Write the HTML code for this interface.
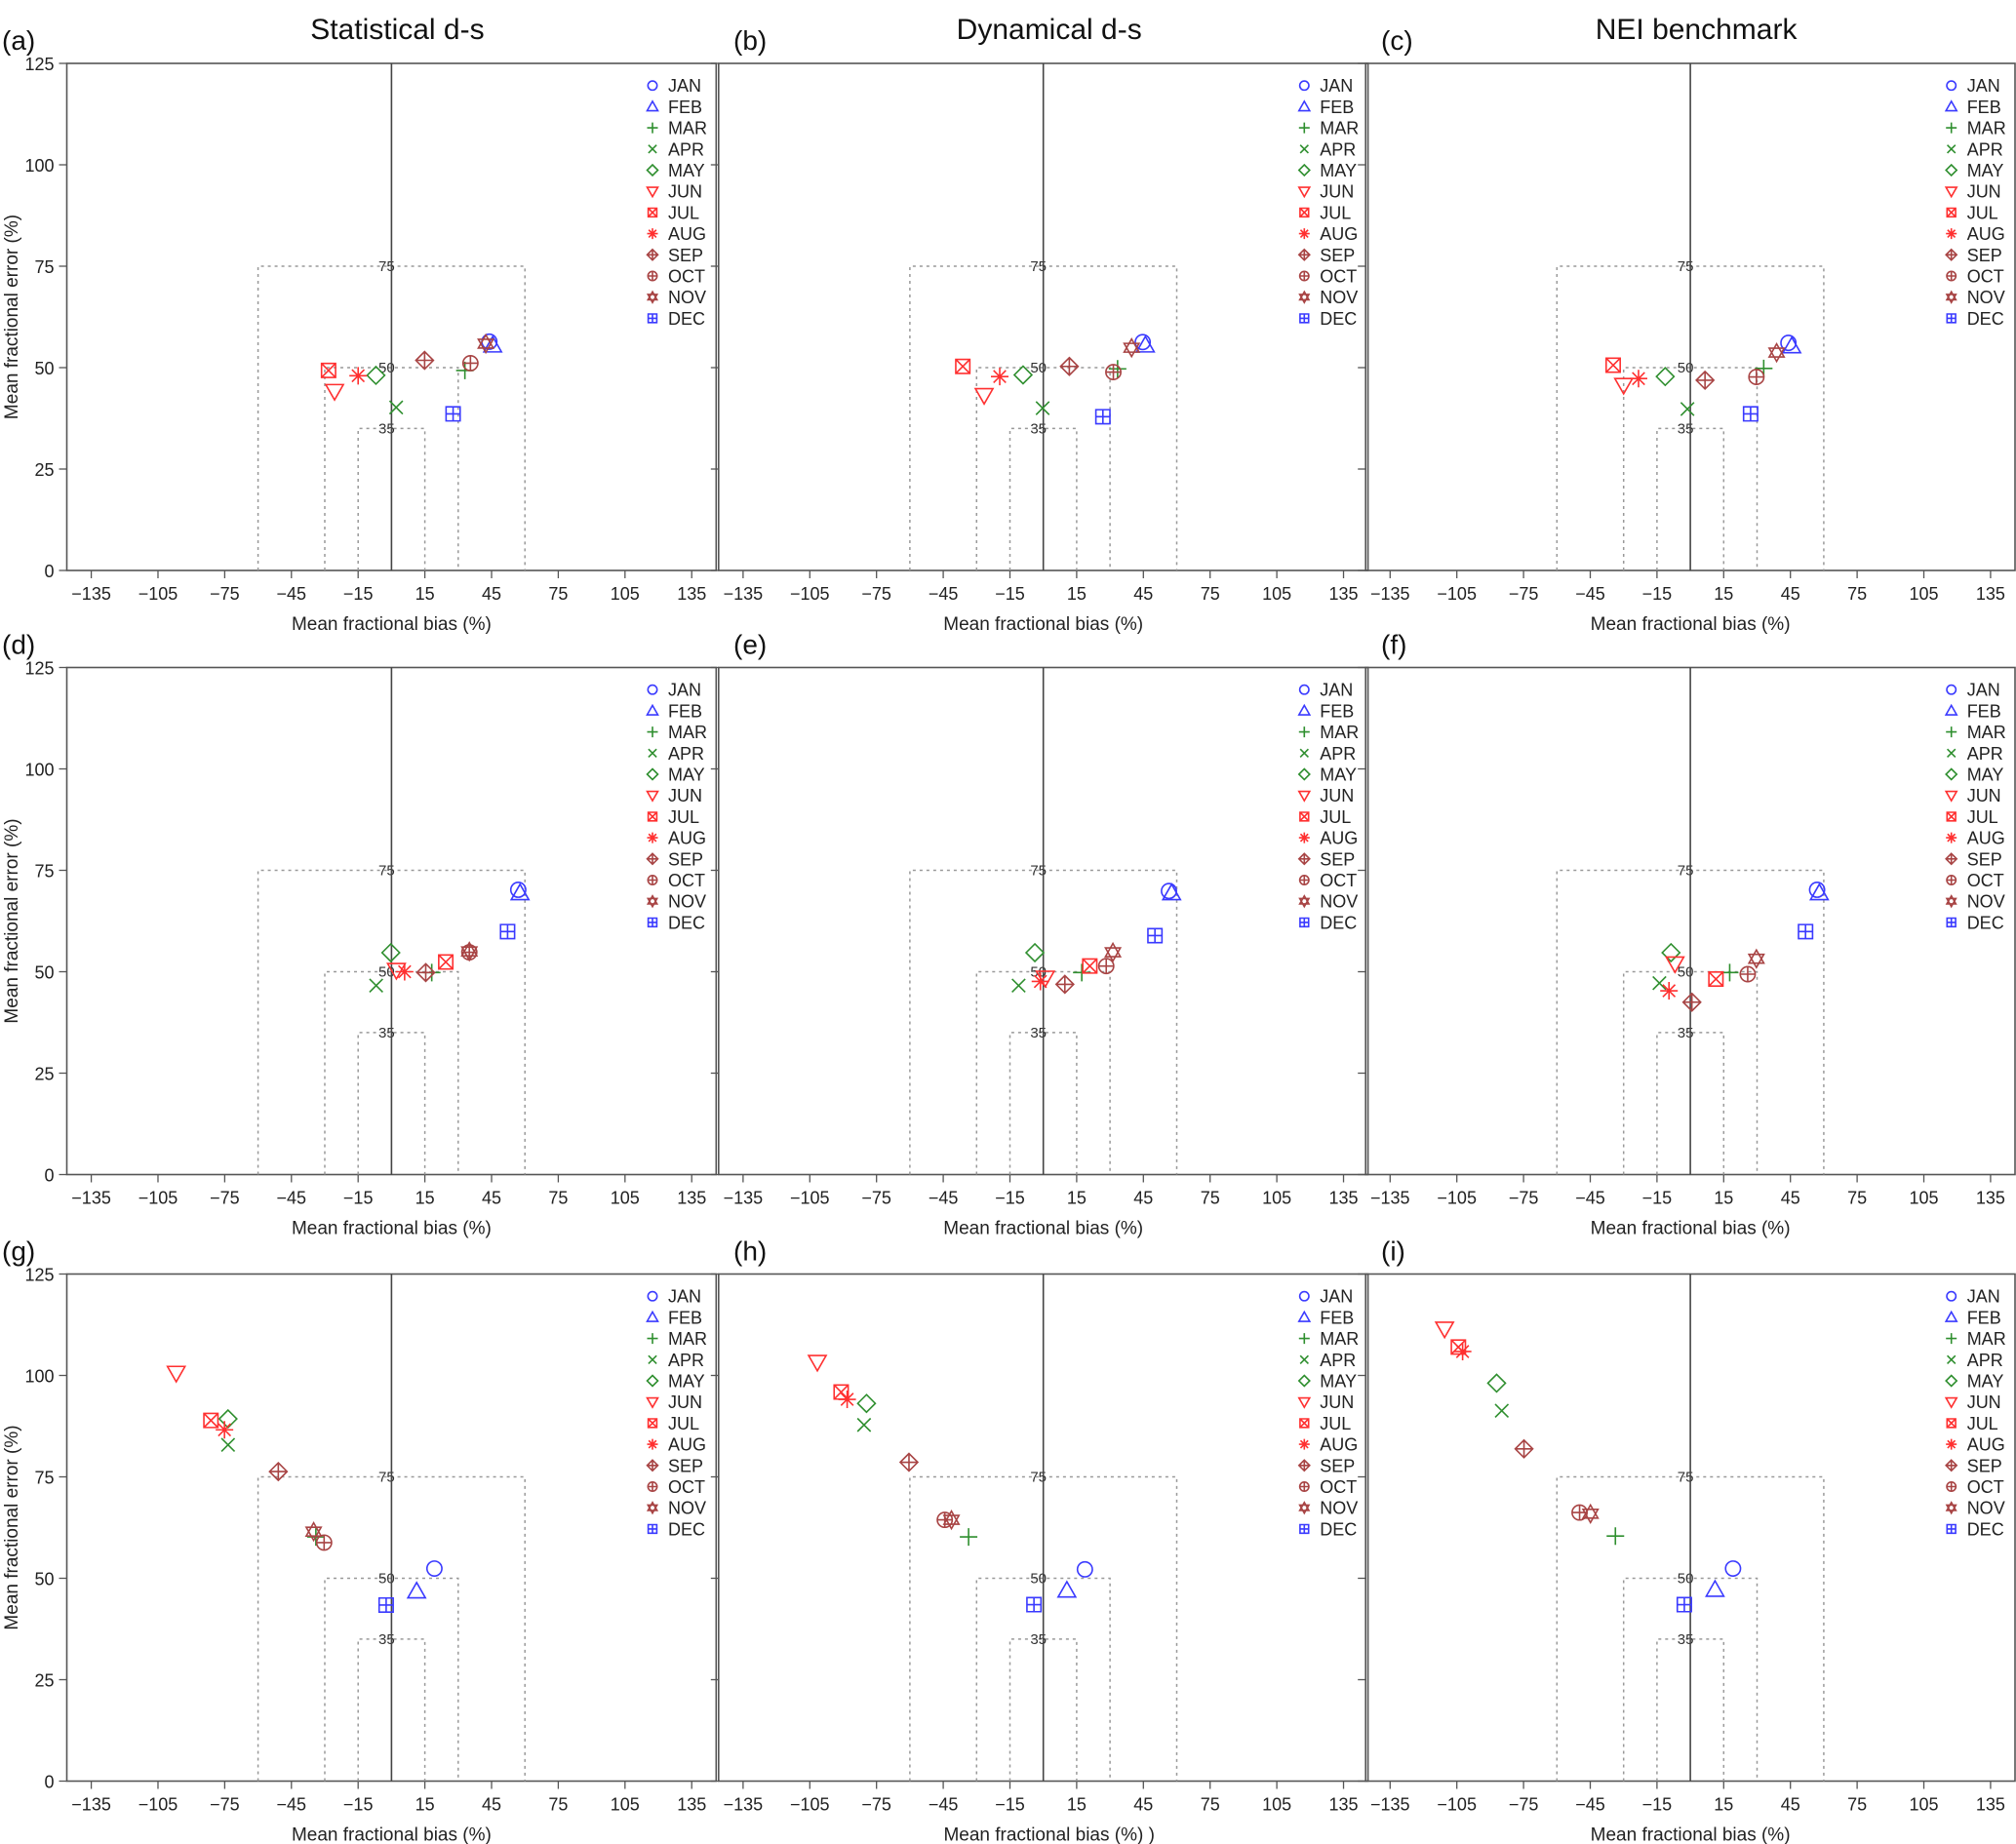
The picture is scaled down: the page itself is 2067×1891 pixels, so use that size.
<!DOCTYPE html>
<html><head><meta charset="utf-8"><title>Monthly mean fractional bias vs. mean fractional error</title>
<style>
html,body{margin:0;padding:0;background:#fff;}
svg{display:block;font-family:"Liberation Sans",Arial,sans-serif;}
</style></head>
<body>
<svg id="fig" width="2067" height="1891" viewBox="0 0 2067 1891" xmlns="http://www.w3.org/2000/svg"></svg>
<script>
// ---- data (bias %, error %) per panel, months JAN..DEC ----
const months = ["JAN","FEB","MAR","APR","MAY","JUN","JUL","AUG","SEP","OCT","NOV","DEC"];
const xTicks = [-135,-105,-75,-45,-15,15,45,75,105,135];
const yTicks = [0,25,50,75,100,125];
const biasA = [44,45.5,33,2.1,-7,-25.6,-28.3,-15,14.9,35.5,42.4,27.7];
const errA  = [56.4,55.5,49.3,40.2,48.1,44.2,49.3,48,51.8,51.1,55.9,38.6];
const biasB = [44.7,45.9,33.4,-0.3,-9.1,-26.6,-36.2,-19.6,11.7,31.5,39.7,26.8];
const errB  = [56.3,55.5,49.7,40,48.2,43.2,50.3,47.8,50.3,48.9,54.9,37.9];
const biasC = [44.1,45.6,33,-1.3,-11.3,-30,-34.7,-23.3,6.6,29.7,38.8,27.1];
const errC  = [56.1,55.3,49.8,39.8,47.8,45.7,50.6,47.3,46.9,47.7,53.7,38.6];
const biasD = [57,57.8,18.1,-6.9,-0.3,2.2,24.4,5.9,15.4,35,35,52.2];
const errD  = [70.2,69.4,49.8,46.6,54.7,50.4,52.4,50,49.8,54.8,55,59.9];
const biasE = [56.5,57.7,17.3,-11.1,-3.8,0.9,20.9,-1.3,9.7,28.3,31.3,50.2];
const errE  = [69.9,69.4,49.8,46.6,54.7,48.5,51.4,47.6,46.9,51.4,54.8,58.9];
const biasF = [57,58,17.7,-13.9,-8.7,-6.9,11.5,-9.6,0.7,25.8,29.7,51.8];
const errF  = [70.2,69.4,49.8,47.2,54.7,52,48.2,45.3,42.5,49.4,53.2,59.9];
const biasG = [19.3,11.3,-34,-73.5,-73.5,-96.8,-81.2,-75.1,-50.9,-30.3,-35,-2.4];
const errG  = [52.4,46.8,60.2,82.9,89.3,100.6,88.9,86.6,76.3,58.8,61.5,43.4];
const biasH = [18.7,10.6,-33.6,-80.6,-79.5,-101.6,-90.9,-88.2,-60.4,-44.3,-41.3,-4.2];
const errH  = [52.2,47,60.2,87.8,93.1,103.3,95.9,94.1,78.6,64.4,64.4,43.5];
const biasI = [19.2,11.1,-33.7,-84.8,-87.1,-110.5,-104.3,-102.4,-74.8,-49.8,-44.9,-2.7];
const errI  = [52.4,47.2,60.4,91.3,98.1,111.5,107,105.9,81.9,66.2,65.9,43.5];

const NS="http://www.w3.org/2000/svg";
const svg=document.getElementById('fig');
const BLUE="#3a3aff", GREEN="#2f8f2f", RED="#ff3030", BROWN="#a84444";
const colors=[BLUE,BLUE,GREEN,GREEN,GREEN,RED,RED,RED,BROWN,BROWN,BROWN,BLUE];

function mk(tag,attrs,parent){const e=document.createElementNS(NS,tag);for(const k in attrs)e.setAttribute(k,attrs[k]);(parent||svg).appendChild(e);return e;}
function txt(s,attrs,parent){const e=mk('text',attrs,parent);e.textContent=s;return e;}

function marker(g,i,cx,cy,r,color){
  const sw=1.6;const st={fill:'none',stroke:color,'stroke-width':sw};
  const P=(d)=>mk('path',Object.assign({d:d},st),g);
  switch(i){
    case 0: mk('circle',Object.assign({cx:cx,cy:cy,r:r*0.85},st),g);break;
    case 1: P(`M${cx},${cy-r} L${cx+r},${cy+r*0.75} L${cx-r},${cy+r*0.75}Z`);break;
    case 2: P(`M${cx-r},${cy}H${cx+r}M${cx},${cy-r}V${cy+r}`);break;
    case 3: P(`M${cx-r*0.75},${cy-r*0.75}L${cx+r*0.75},${cy+r*0.75}M${cx+r*0.75},${cy-r*0.75}L${cx-r*0.75},${cy+r*0.75}`);break;
    case 4: P(`M${cx},${cy-r}L${cx+r},${cy}L${cx},${cy+r}L${cx-r},${cy}Z`);break;
    case 5: P(`M${cx-r},${cy-r*0.75}L${cx+r},${cy-r*0.75}L${cx},${cy+r}Z`);break;
    case 6: {const a=r*0.8;P(`M${cx-a},${cy-a}h${2*a}v${2*a}h${-2*a}Z M${cx-a},${cy-a}L${cx+a},${cy+a}M${cx+a},${cy-a}L${cx-a},${cy+a}`);break;}
    case 7: P(`M${cx-r},${cy}H${cx+r}M${cx},${cy-r}V${cy+r}M${cx-r*0.7},${cy-r*0.7}L${cx+r*0.7},${cy+r*0.7}M${cx+r*0.7},${cy-r*0.7}L${cx-r*0.7},${cy+r*0.7}`);break;
    case 8: P(`M${cx},${cy-r}L${cx+r},${cy}L${cx},${cy+r}L${cx-r},${cy}Z M${cx-r},${cy}H${cx+r}M${cx},${cy-r}V${cy+r}`);break;
    case 9: mk('circle',Object.assign({cx:cx,cy:cy,r:r*0.85},st),g);P(`M${cx-r*0.85},${cy}H${cx+r*0.85}M${cx},${cy-r*0.85}V${cy+r*0.85}`);break;
    case 10: P(`M${cx},${cy-r}L${cx+r*0.85},${cy+r*0.5}L${cx-r*0.85},${cy+r*0.5}Z M${cx},${cy+r}L${cx+r*0.85},${cy-r*0.5}L${cx-r*0.85},${cy-r*0.5}Z`);break;
    case 11: {const a=r*0.8;P(`M${cx-a},${cy-a}h${2*a}v${2*a}h${-2*a}Z M${cx-a},${cy}H${cx+a}M${cx},${cy-a}V${cy+a}`);break;}
  }
}

const XMIN=-146,XMAX=146,YMIN=0,YMAX=125;
const colLeft=[68.5,736.8,1400.2];
const rowBottom=[585,1204.5,1826.5];
const PW=665.8, PH=520;
const panels=[
 {id:'a',b:biasA,e:errA,c:0,r:0},{id:'b',b:biasB,e:errB,c:1,r:0},{id:'c',b:biasC,e:errC,c:2,r:0},
 {id:'d',b:biasD,e:errD,c:0,r:1},{id:'e',b:biasE,e:errE,c:1,r:1},{id:'f',b:biasF,e:errF,c:2,r:1},
 {id:'g',b:biasG,e:errG,c:0,r:2},{id:'h',b:biasH,e:errH,c:1,r:2},{id:'i',b:biasI,e:errI,c:2,r:2}];
const colTitles=["Statistical d-s","Dynamical d-s","NEI benchmark"];
const labelX=[2,752,1416];

colTitles.forEach((t,c)=>{
  const e=txt(t,{x:colLeft[c]+PW/2+6,y:40,'font-size':30,'text-anchor':'middle',fill:'#111'});
  
  
});

panels.forEach(p=>{
  const L=colLeft[p.c], B=rowBottom[p.r], T=B-PH;
  const sx=v=>L+(v-XMIN)/(XMAX-XMIN)*PW;
  const sy=v=>B-(v-YMIN)/(YMAX-YMIN)*PH;
  const g=mk('g',{});
  
  

  const lab=txt('('+p.id+')',{x:labelX[p.c],y:T-14,'font-size':28,fill:'#111'},g);
  
  

  const fr=mk('rect',{x:L,y:T,width:PW,height:PH,fill:'none',stroke:'#555','stroke-width':1.6},g);
  
  

  [[60,75],[30,50],[15,35]].forEach(([h,v])=>{
    const bx=mk('path',{d:`M${sx(-h)},${B}V${sy(v)}H${sx(h)}V${B}`,fill:'none',stroke:'#999','stroke-width':1.5,'stroke-dasharray':'3 4'},g);
    
    
    const bl=txt(String(v),{x:sx(0)-5,y:sy(v)+5,'font-size':15,'text-anchor':'middle',fill:'#333'},g);
    
    
  });

  const zl=mk('line',{x1:sx(0),x2:sx(0),y1:T,y2:B,stroke:'#444','stroke-width':1.6},g);
  
  

  xTicks.forEach(v=>{
    const tk=mk('line',{x1:sx(v),x2:sx(v),y1:B,y2:B+8,stroke:'#555','stroke-width':1.3},g);
    
    
    const tl=txt(String(v).replace('-','\u2212'),{x:sx(v),y:B+30,'font-size':18,'text-anchor':'middle',fill:'#222'},g);
    
    
  });
  yTicks.forEach(v=>{
    const tk=mk('line',{x1:L-8,x2:L,y1:sy(v),y2:sy(v),stroke:'#555','stroke-width':1.3},g);
    
    
    if(p.c===0){
      const tl=txt(String(v),{x:L-13,y:sy(v)+7,'font-size':18,'text-anchor':'end',fill:'#222'},g);
      
      
    }
  });
  const xt=txt(p.id==='h'?'Mean  fractional bias (%) )':'Mean  fractional bias (%)',{x:sx(0)+(p.id==='h'?6:0),y:B+61,'font-size':19,'text-anchor':'middle',fill:'#222'},g);
  
  
  if(p.c===0){
    const yt=txt('Mean fractional error (%)',{x:0,y:0,'font-size':19,'text-anchor':'middle',fill:'#222',transform:`translate(18,${(T+B)/2}) rotate(-90)`},g);
    
    
  }

  months.forEach((m,i)=>{
    const pg=mk('g',{},g);
    
    
    marker(pg,i,sx(p.b[i]),sy(p.e[i]),9,colors[i]);
  });

  const lg=mk('g',{},g);
  
  
  months.forEach((m,i)=>{
    const ey=T+22.7+i*21.7;
    const le=mk('g',{},lg);
    
    
    marker(le,i,L+600.5,ey,5.5,colors[i]);
    txt(m,{x:L+616.5,y:ey+6.5,'font-size':18,fill:'#222'},le);
  });
});
</script>
</body></html>
